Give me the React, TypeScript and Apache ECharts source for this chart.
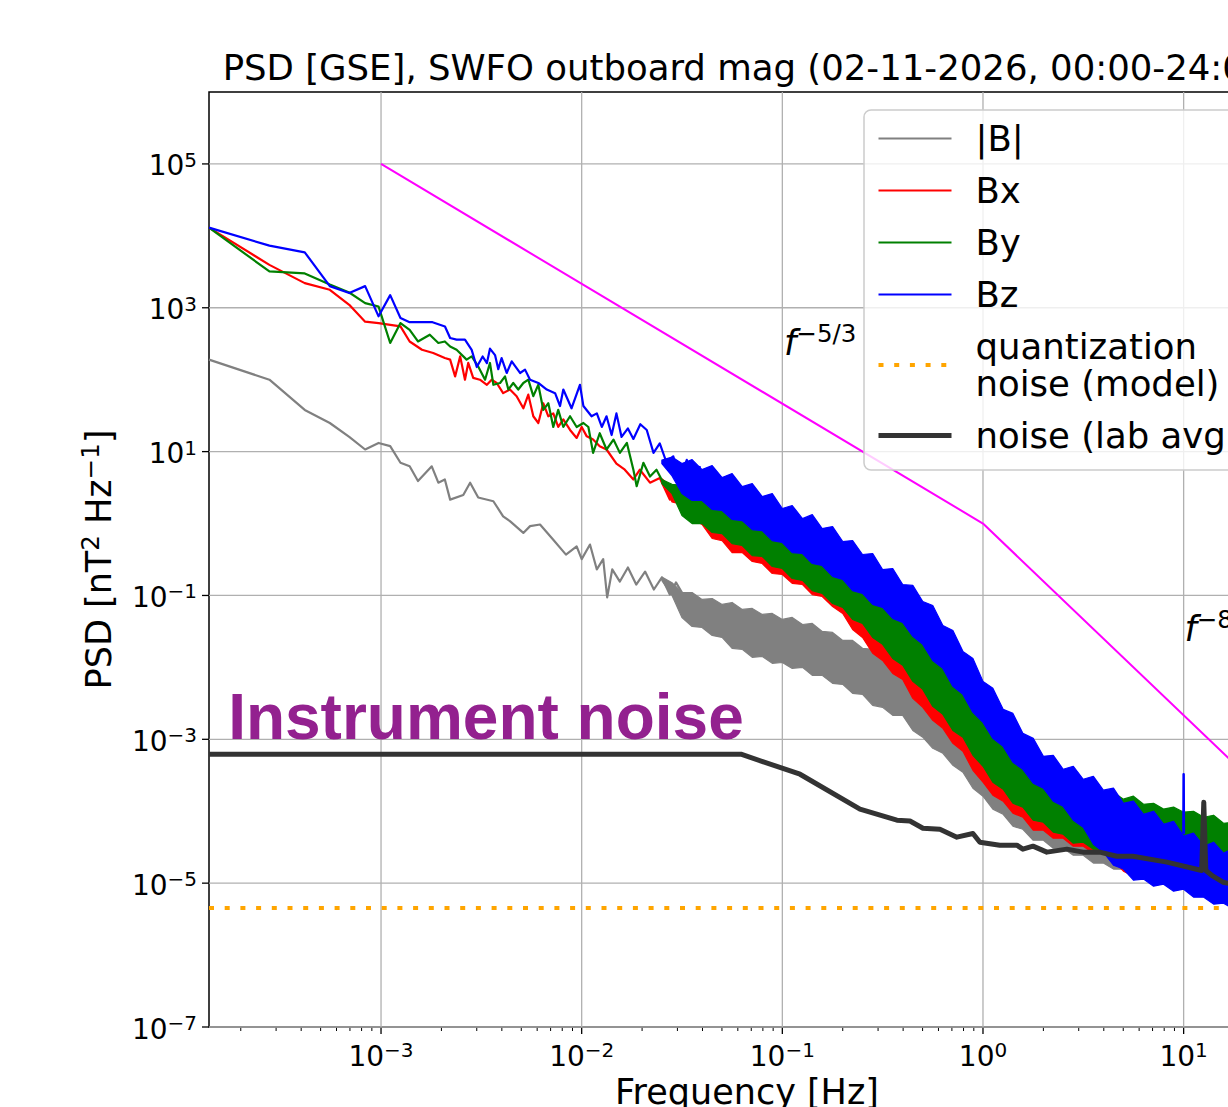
import React, { useEffect, useRef } from 'react';
import * as echarts from 'echarts';

const FONT = 'DejaVu Sans';

// Axis extents: 2-hour Welch segments give a lowest bin of 1/7200 Hz; Nyquist is 32 Hz.
const F_MIN = 1 / 7200;
const F_MAX = 32;
const PSD_MIN = 1e-7;
const PSD_MAX = 1e6;

const xMajorTicks = [1e-3, 1e-2, 1e-1, 1, 10];
const xMajorExponents = ['−3', '−2', '−1', '0', '1'];
const xMinorTicks = [
  2e-4, 3e-4, 4e-4, 5e-4, 6e-4, 7e-4, 8e-4, 9e-4,
  2e-3, 3e-3, 4e-3, 5e-3, 6e-3, 7e-3, 8e-3, 9e-3,
  0.02, 0.03, 0.04, 0.05, 0.06, 0.07, 0.08, 0.09,
  0.2, 0.3, 0.4, 0.5, 0.6, 0.7, 0.8, 0.9,
  2, 3, 4, 5, 6, 7, 8, 9, 20, 30,
];
const yMajorTicks = [1e-7, 1e-5, 1e-3, 1e-1, 1e1, 1e3, 1e5];
const yMajorExponents = ['−7', '−5', '−3', '−1', '1', '3', '5'];

// Low-frequency part of each spectrum: [frequency Hz, PSD nT^2/Hz]
const bMagLine = [
  [1.389e-4, 190], [2.778e-4, 100], [4.167e-4, 38], [5.556e-4, 25], [6.944e-4, 16],
  [8.333e-4, 10.7], [9.722e-4, 13.2], [1.111e-3, 11.9], [1.25e-3, 7.0], [1.389e-3, 6.25],
  [1.528e-3, 3.9], [1.79e-3, 6.25], [1.93e-3, 3.7], [2.08e-3, 4.1], [2.21e-3, 2.15],
  [2.57e-3, 2.5], [2.78e-3, 3.7], [3.05e-3, 2.3], [3.63e-3, 2.04], [4.06e-3, 1.26],
  [4.39e-3, 1.08], [5.12e-3, 0.74], [5.53e-3, 0.92], [6.2e-3, 0.97], [7.2e-3, 0.6],
  [8.35e-3, 0.37], [9.44e-3, 0.48], [0.01, 0.32], [0.011, 0.51], [0.0119, 0.23],
  [0.0128, 0.32], [0.0134, 0.094], [0.0142, 0.23], [0.0155, 0.156], [0.017, 0.245],
  [0.0187, 0.142], [0.0207, 0.215], [0.0229, 0.121], [0.0251, 0.178], [0.0275, 0.103],
  [0.0295, 0.152], [0.0316, 0.11],
];

const bxLine = [
  [1.389e-4, 1.3e4], [2.778e-4, 3.95e3], [4.167e-4, 2.2e3], [5.556e-4, 1.78e3], [6.944e-4, 1.1e3],
  [8.333e-4, 640], [9.722e-4, 613], [1.25e-3, 550], [1.389e-3, 340], [1.6e-3, 261],
  [1.82e-3, 235], [2.08e-3, 200], [2.21e-3, 190], [2.34e-3, 111], [2.48e-3, 211],
  [2.62e-3, 100], [2.72e-3, 171], [2.88e-3, 106], [3.11e-3, 100], [3.37e-3, 85],
  [3.56e-3, 100], [3.77e-3, 90], [4.06e-3, 65], [4.39e-3, 73], [4.74e-3, 59],
  [5.12e-3, 40], [5.42e-3, 62], [5.74e-3, 31], [6.08e-3, 25], [6.44e-3, 47],
  [6.82e-3, 31], [7.22e-3, 34], [7.64e-3, 22], [8.1e-3, 28], [8.75e-3, 20],
  [9.44e-3, 15.5], [0.01, 22], [0.0106, 16.3], [0.0114, 14.7], [0.0123, 11.9],
  [0.0133, 10.7], [0.0149, 6.8], [0.0164, 5.6], [0.0181, 4.1], [0.0195, 5.6],
  [0.0219, 3.7], [0.0245, 4.3], [0.0275, 2.15], [0.0297, 3.0], [0.0321, 1.94],
  [0.0353, 2.7], [0.0389, 1.94],
];

const byLine = [
  [1.389e-4, 1.3e4], [2.778e-4, 3.2e3], [4.167e-4, 3.0e3], [5.556e-4, 2.1e3], [6.944e-4, 1.63e3],
  [8.333e-4, 1.16e3], [9.722e-4, 1.04e3], [1.111e-3, 324], [1.25e-3, 613], [1.389e-3, 494],
  [1.528e-3, 340], [1.75e-3, 422], [1.93e-3, 324], [2.08e-3, 340], [2.21e-3, 290],
  [2.38e-3, 261], [2.67e-3, 190], [2.83e-3, 211], [3.05e-3, 153], [3.3e-3, 100],
  [3.49e-3, 171], [3.63e-3, 85], [3.92e-3, 90], [4.15e-3, 111], [4.31e-3, 73],
  [4.56e-3, 90], [4.83e-3, 73], [5.12e-3, 90], [5.42e-3, 100], [5.74e-3, 59],
  [6.08e-3, 85], [6.44e-3, 38], [6.82e-3, 47], [7.22e-3, 22], [7.64e-3, 38],
  [8.1e-3, 22], [8.75e-3, 31], [9.44e-3, 22], [0.0102, 25], [0.0108, 22],
  [0.0114, 9.6], [0.0123, 18], [0.0133, 10.7], [0.0144, 14.7], [0.0155, 9.6],
  [0.0168, 13.2], [0.0181, 5.6], [0.0188, 3.3], [0.0203, 7.0], [0.0219, 4.5],
  [0.0236, 5.6], [0.0255, 3.7], [0.0275, 3.3], [0.0297, 2.7], [0.0321, 3.0],
  [0.034, 1.94], [0.036, 2.7], [0.0389, 2.15],
];

const bzLine = [
  [1.389e-4, 1.3e4], [2.778e-4, 7.3e3], [4.167e-4, 5.9e3], [5.556e-4, 2.0e3], [6.944e-4, 1.6e3],
  [8.333e-4, 2.0e3], [9.722e-4, 760], [1.111e-3, 1.5e3], [1.25e-3, 720], [1.389e-3, 630],
  [1.528e-3, 630], [1.667e-3, 630], [1.806e-3, 630], [2.083e-3, 550], [2.21e-3, 380],
  [2.38e-3, 360], [2.62e-3, 360], [2.83e-3, 260], [3.0e-3, 150], [3.21e-3, 210],
  [3.37e-3, 170], [3.49e-3, 270], [3.7e-3, 220], [3.84e-3, 140], [3.99e-3, 200],
  [4.23e-3, 124], [4.48e-3, 180], [4.93e-3, 124], [5.22e-3, 138], [5.53e-3, 100],
  [6.08e-3, 90], [6.7e-3, 73], [7.37e-3, 65], [7.8e-3, 43], [8.1e-3, 73],
  [8.9e-3, 40], [9.8e-3, 85], [0.0102, 43], [0.0112, 31], [0.0119, 34],
  [0.0126, 22], [0.0133, 31], [0.0141, 17], [0.0149, 34], [0.0158, 16],
  [0.017, 21], [0.0181, 15], [0.0196, 24], [0.0211, 20], [0.0228, 9.6], [0.0245, 13],
  [0.0265, 7.0], [0.0286, 8.6], [0.0309, 4.1], [0.0334, 7.7], [0.036, 3.7], [0.0389, 6.3],
];

// Narrow line at 10 Hz in Bz
const bzSpike = [[9.97, 4.8e-5], [10.0, 3.26e-4], [10.03, 4.8e-5]];

// Above ~0.025 Hz the bins are too dense to resolve: upper / lower envelopes of each spectrum
const bandFreq = [
  0.0251, 0.0282,
  0.0316, 0.0355, 0.0398, 0.0447, 0.0501, 0.0562, 0.0631, 0.0708, 0.0794, 0.0891,
  0.1, 0.112, 0.126, 0.141, 0.158, 0.178, 0.2, 0.224, 0.251, 0.282,
  0.316, 0.355, 0.398, 0.447, 0.501, 0.562, 0.631, 0.708, 0.794, 0.891,
  1.0, 1.12, 1.26, 1.41, 1.58, 1.78, 2.0, 2.24, 2.51, 2.82,
  3.16, 3.55, 3.98, 4.47, 5.01, 5.62, 6.31, 7.08, 7.94, 8.91,
  10.0, 11.2, 12.6, 14.1, 15.8, 17.8, 20.0, 22.4, 25.1, 28.2, 31.6,
];

const bMagBandHi = [
  0.18, 0.15,
  0.110, 0.110, 0.088, 0.0908, 0.075, 0.0799, 0.0639, 0.066, 0.0545, 0.0562,
  0.0464, 0.0495, 0.0395, 0.0408, 0.0316, 0.0306, 0.0237, 0.0237, 0.0184, 0.0178,
  0.0133, 0.0133, 0.0103, 0.00908, 0.00619, 0.00511, 0.00297, 0.00222, 0.00125, 9.69e-4,
  5.8e-4, 4.64e-4, 2.78e-4, 2.29e-4, 1.57e-4, 1.33e-4, 9.69e-5, 9.38e-5, 6.39e-5, 5.99e-5,
  4.35e-5, 4.35e-5, 3.37e-5, 3.37e-5, 2.78e-5,
];
const bMagBandLo = [
  0.16, 0.1,
  0.0495, 0.0371, 0.0359, 0.0278, 0.0261, 0.0184, 0.0178, 0.0138, 0.0142, 0.0114,
  0.0117, 0.00969, 0.01, 0.00774, 0.00774, 0.00599, 0.0058, 0.00435, 0.00422, 0.00297,
  0.00278, 0.00215, 0.00215, 0.00133, 0.00107, 7.5e-4, 6.39e-4, 4.35e-4, 3.48e-4, 2.09e-4,
  1.62e-4, 1.07e-4, 9.08e-5, 6.19e-5, 5.62e-5, 3.95e-5, 3.95e-5, 3.06e-5, 3.06e-5, 2.45e-5,
  2.45e-5, 1.9e-5, 1.9e-5, 1.57e-5, 1.57e-5,
];

const bxBandHi = [
  4.2, 3.2,
  2.72, 3.1, 2.25, 2.56, 1.74, 1.98, 1.3, 1.44, 0.95, 1.04,
  0.65, 0.71, 0.47, 0.53, 0.34, 0.36, 0.225, 0.232, 0.149, 0.154,
  0.092, 0.095, 0.057, 0.055, 0.033, 0.029, 0.015, 0.013, 0.0067, 0.0054,
  0.0026, 0.0021, 0.00104, 9.2e-4, 4.8e-4, 4.2e-4, 2.3e-4, 2.4e-4, 1.5e-4, 1.7e-4,
  1.1e-4, 1.83e-4, 1.42e-4, 1.47e-4, 1.18e-4, 1.3e-4, 1.0e-4, 1.03e-4, 8.6e-5, 9.1e-5,
  7.8e-5, 8.0e-5, 6.6e-5, 7.0e-5, 5.4e-5, 5.6e-5, 4.5e-5, 4.6e-5, 3.7e-5, 3.8e-5, 3.1e-5,
];
const bxBandLo = [
  3.7, 2.0,
  1.84, 1.17, 0.969, 0.619, 0.58, 0.395, 0.395, 0.297, 0.278, 0.202,
  0.196, 0.147, 0.142, 0.103, 0.0969, 0.0703, 0.0562, 0.0337, 0.0261, 0.0157,
  0.0125, 0.00825, 0.00681, 0.00371, 0.00278, 0.00184, 0.00142, 8.8e-4, 6.81e-4, 3.71e-4,
  2.53e-4, 1.67e-4, 1.38e-4, 9.38e-5, 8.25e-5, 5.45e-5, 5.45e-5, 4.22e-5, 4.22e-5, 3.26e-5,
  3.26e-5, 2.61e-5, 2.7e-5, 2.02e-5, 1.47e-5, 1.25e-5, 1.21e-5, 1.14e-5, 1.07e-5, 1.0e-5,
  9.38e-6, 8.25e-6, 7.26e-6, 6.39e-6, 5.99e-6, 5.11e-6, 4.95e-6, 4.64e-6, 4.35e-6, 4.08e-6, 3.95e-6,
];

const byBandHi = [
  4.1, 3.5,
  3.4, 3.87, 2.81, 3.2, 2.18, 2.48, 1.63, 1.8, 1.19, 1.3,
  0.81, 0.89, 0.585, 0.665, 0.426, 0.454, 0.281, 0.29, 0.186, 0.192,
  0.115, 0.119, 0.071, 0.069, 0.041, 0.036, 0.019, 0.0163, 0.0084, 0.0067,
  0.0032, 0.0026, 0.0013, 0.00115, 6.0e-4, 5.2e-4, 2.9e-4, 3.0e-4, 1.9e-4, 2.1e-4,
  1.4e-4, 2.29e-4, 1.78e-4, 1.84e-4, 1.47e-4, 1.62e-4, 1.25e-4, 1.29e-4, 1.07e-4, 1.14e-4,
  9.69e-5, 1.0e-4, 8.25e-5, 8.8e-5, 6.81e-5, 7.03e-5, 5.62e-5, 5.8e-5, 4.64e-5, 4.79e-5, 3.83e-5,
];
const byBandLo = [
  3.6, 2.6,
  1.29, 1.0, 1.0, 0.75, 0.726, 0.527, 0.495, 0.359, 0.348, 0.253,
  0.237, 0.172, 0.162, 0.117, 0.107, 0.0774, 0.0681, 0.0464, 0.0408, 0.0261,
  0.0209, 0.0133, 0.0107, 0.00639, 0.00495, 0.00287, 0.00222, 0.00133, 0.00107, 5.99e-4,
  4.22e-4, 2.53e-4, 2.02e-4, 1.29e-4, 1.14e-4, 7.5e-5, 7.03e-5, 5.11e-5, 4.79e-5, 3.59e-5,
  3.71e-5, 2.97e-5, 2.97e-5, 2.53e-5, 2.15e-5, 1.84e-5, 1.67e-5, 1.52e-5, 1.38e-5, 1.25e-5,
  1.14e-5, 1.03e-5, 9.38e-6, 8.8e-6, 8.25e-6, 7.74e-6, 7.26e-6, 6.81e-6, 6.39e-6, 5.99e-6, 5.62e-6,
];

const bzBandHi = [
  7.6, 8.4,
  6.81, 7.74, 5.62, 6.39, 4.35, 4.95, 3.26, 3.59, 2.37, 2.61,
  1.62, 1.78, 1.17, 1.33, 0.852, 0.908, 0.562, 0.58, 0.371, 0.383,
  0.229, 0.237, 0.142, 0.138, 0.0825, 0.0726, 0.0383, 0.0326, 0.0167, 0.0133,
  0.00639, 0.00511, 0.00261, 0.00229, 0.00121, 0.00103, 5.8e-4, 5.99e-4, 3.83e-4, 4.22e-4,
  2.78e-4, 3.06e-4, 1.96e-4, 2.09e-4, 1.29e-4, 1.38e-4, 9.08e-5, 1.0e-4, 6.6e-5, 7.26e-5,
  4.5e-5, 4.95e-5, 3.26e-5, 3.71e-5, 2.61e-5, 3.06e-5, 2.15e-5, 2.53e-5, 1.78e-5, 2.15e-5, 1.57e-5,
];
const bzBandLo = [
  6.8, 4.6,
  2.61, 2.09, 2.09, 1.57, 1.52, 1.14, 1.1, 0.825, 0.799, 0.58,
  0.545, 0.395, 0.383, 0.278, 0.261, 0.184, 0.167, 0.117, 0.107, 0.075,
  0.0681, 0.0479, 0.0422, 0.027, 0.0209, 0.0125, 0.00969, 0.00545, 0.00422, 0.00237,
  0.00172, 0.00103, 7.99e-4, 4.79e-4, 3.83e-4, 2.45e-4, 2.09e-4, 1.38e-4, 1.17e-4, 7.5e-5,
  5.99e-5, 3.48e-5, 2.7e-5, 1.78e-5, 1.57e-5, 1.1e-5, 1.14e-5, 9.08e-6, 9.69e-6, 7.74e-6,
  8.25e-6, 6.39e-6, 6.39e-6, 5.11e-6, 5.27e-6, 4.35e-6, 4.64e-6, 3.83e-6, 4.08e-6, 3.37e-6, 3.71e-6,
];

// Lab-averaged sensor noise floor
const labNoise = [
  [1.389e-4, 6.2e-4], [0.0622, 6.2e-4], [0.1225, 3.27e-4], [0.2437, 1.07e-4], [0.3725, 7.5e-5],
  [0.4325, 7.3e-5], [0.502, 5.8e-5], [0.61, 5.6e-5], [0.741, 4.36e-5], [0.891, 4.9e-5],
  [0.965, 3.7e-5], [1.213, 3.37e-5], [1.475, 3.37e-5], [1.58, 2.97e-5], [1.775, 3.27e-5],
  [2.08, 2.7e-5], [2.62, 2.97e-5], [3.15, 2.7e-5], [3.82, 2.7e-5], [4.64, 2.37e-5],
  [5.58, 2.37e-5], [8.25, 1.96e-5], [11.6, 1.56e-5], [12.3, 1.5e-5], [12.6, 1.33e-4],
  [12.9, 1.5e-5], [14.0, 1.25e-5], [15.7, 1.03e-5], [32, 7e-6],
];

// Quantization noise model (flat)
const quantNoise = [[F_MIN, 4.5e-6], [F_MAX, 4.5e-6]];

// Reference slopes: f^-5/3 from 1 mHz to 1 Hz, then f^-8/3
const slopeRef = [[1e-3, 1e5], [1, 1], [32, 9.7e-5]];

// Text annotations anchored in data space (left / bottom of the text box)
const noteAnchors = [[0.102, 161], [10.1, 0.0169], [1.73e-4, 7.3e-4]];

const tickRich = {
  b: { fontSize: 28, fontFamily: FONT, lineHeight: 32, fill: '#000' },
  s: { fontSize: 20, fontFamily: FONT, lineHeight: 20, verticalAlign: 'top', fill: '#000' },
};
const slopeRich = {
  i: { fontSize: 35, fontFamily: FONT, fontStyle: 'italic', lineHeight: 44, fill: '#000' },
  s: { fontSize: 24.5, fontFamily: FONT, lineHeight: 24, verticalAlign: 'top', fill: '#000' },
};

function bandRenderer(hi: number[], lo: number[], color: string) {
  return (_params: any, api: any) => {
    const n = Math.min(hi.length, lo.length);
    const points: number[][] = [];
    for (let i = 0; i < n; i++) points.push(api.coord([bandFreq[i], hi[i]]));
    for (let i = n - 1; i >= 0; i--) points.push(api.coord([bandFreq[i], lo[i]]));
    return {
      type: 'polygon',
      shape: { points },
      style: { fill: color, stroke: color, lineWidth: 1.2, lineJoin: 'round' },
    };
  };
}

function lineSeries(name: string, data: number[][], color: string, width: number, z: number, extra: any = {}) {
  return {
    type: 'line',
    name,
    data,
    z,
    showSymbol: false,
    symbol: 'none',
    silent: true,
    color,
    lineStyle: { color, width, join: 'round', cap: 'butt', ...(extra.lineStyle || {}) },
  };
}

function bandSeries(name: string, hi: number[], lo: number[], color: string, z: number) {
  return {
    type: 'custom',
    name,
    coordinateSystem: 'cartesian2d',
    silent: true,
    z,
    data: [[bandFreq[0], hi[0]]],
    renderItem: bandRenderer(hi, lo, color),
  };
}

export default function App() {
  const ref = useRef<HTMLDivElement>(null);

  useEffect(() => {
    if (!ref.current) return;
    const chart = echarts.init(ref.current, null, { renderer: 'svg' });

    const option: any = {
      animation: false,
      backgroundColor: '#ffffff',
      title: {
        text: 'PSD [GSE], SWFO outboard mag (02-11-2026, 00:00-24:00)',
        left: 747,
        top: 44,
        textAlign: 'center',
        textStyle: { fontFamily: FONT, fontSize: 35.5, fontWeight: 'normal', color: '#000' },
      },
      grid: {
        left: 209,
        top: 92,
        width: 1076,
        height: 935,
        show: true,
        borderColor: '#000',
        borderWidth: 1.5,
        backgroundColor: 'transparent',
        containLabel: false,
        outerBoundsMode: 'none',
      },
      legend: {
        orient: 'vertical',
        left: 864,
        top: 110,
        z: 20,
        selectedMode: false,
        data: ['|B|', 'Bx', 'By', 'Bz', 'quantization\nnoise (model)', 'noise (lab avg)'],
        itemWidth: 73,
        itemHeight: 14,
        itemGap: 15,
        padding: [10, 14, 16, 12],
        backgroundColor: 'rgba(255,255,255,0.8)',
        borderColor: '#cccccc',
        borderWidth: 1.5,
        borderRadius: 7,
        itemStyle: { opacity: 0 },
        lineStyle: { width: 'inherit' },
        textStyle: {
          fontFamily: FONT,
          fontSize: 35.5,
          lineHeight: 37,
          color: '#000',
          padding: [0, 0, 0, 19],
        },
      },
      xAxis: {
        type: 'log',
        logBase: 10,
        min: F_MIN,
        max: F_MAX,
        axisLine: { show: false },
        axisTick: { show: false },
        axisLabel: { show: false },
        splitLine: { show: false },
        minorTick: { show: false },
        minorSplitLine: { show: false },
        name: 'Frequency [Hz]',
        nameLocation: 'middle',
        nameGap: 47,
        nameTextStyle: { fontFamily: FONT, fontSize: 35, color: '#000' },
      },
      yAxis: {
        type: 'log',
        logBase: 10,
        min: PSD_MIN,
        max: PSD_MAX,
        axisLine: { show: false },
        axisTick: { show: false },
        axisLabel: { show: false },
        splitLine: { show: false },
        minorTick: { show: false },
        minorSplitLine: { show: false },
        name: '{a|PSD [nT}{s|2}{a| Hz}{s|−1}{a|]}',
        nameLocation: 'middle',
        nameRotate: 90,
        nameGap: 89,
        nameTextStyle: {
          fontFamily: FONT,
          fontSize: 35,
          color: '#000',
          rich: {
            a: { fontFamily: FONT, fontSize: 35, color: '#000', lineHeight: 42 },
            s: { fontFamily: FONT, fontSize: 24.5, color: '#000', lineHeight: 24, verticalAlign: 'top' },
          },
        },
      },
      series: [
        // x gridlines, major ticks and labels
        {
          type: 'custom',
          coordinateSystem: 'cartesian2d',
          silent: true,
          z: 1,
          data: xMajorTicks.map((f, i) => [f, PSD_MIN, i]),
          renderItem: (params: any, api: any) => {
            const f = api.value(0);
            const idx = api.value(2);
            const [x, yb] = api.coord([f, PSD_MIN]);
            const [, yt] = api.coord([f, PSD_MAX]);
            return {
              type: 'group',
              children: [
                { type: 'line', shape: { x1: x, y1: yt, x2: x, y2: yb }, style: { stroke: '#b0b0b0', lineWidth: 1.3 } },
                { type: 'line', shape: { x1: x, y1: yb, x2: x, y2: yb + 7 }, style: { stroke: '#000', lineWidth: 1.3 } },
                {
                  type: 'text',
                  x,
                  y: yb + 13,
                  style: {
                    text: `{b|10}{s|${xMajorExponents[idx]}}`,
                    rich: tickRich,
                    align: 'center',
                    verticalAlign: 'top',
                  },
                },
              ],
            };
          },
        },
        // x minor ticks
        {
          type: 'custom',
          coordinateSystem: 'cartesian2d',
          silent: true,
          z: 1,
          data: xMinorTicks.map((f) => [f, PSD_MIN]),
          renderItem: (params: any, api: any) => {
            const [x, yb] = api.coord([api.value(0), PSD_MIN]);
            return { type: 'line', shape: { x1: x, y1: yb, x2: x, y2: yb + 4 }, style: { stroke: '#000', lineWidth: 1 } };
          },
        },
        // y gridlines, ticks and labels
        {
          type: 'custom',
          coordinateSystem: 'cartesian2d',
          silent: true,
          z: 1,
          data: yMajorTicks.map((v, i) => [F_MIN, v, i]),
          renderItem: (params: any, api: any) => {
            const v = api.value(1);
            const idx = api.value(2);
            const [xl, y] = api.coord([F_MIN, v]);
            const [xr] = api.coord([F_MAX, v]);
            return {
              type: 'group',
              children: [
                { type: 'line', shape: { x1: xl, y1: y, x2: xr, y2: y }, style: { stroke: '#b0b0b0', lineWidth: 1.3 } },
                { type: 'line', shape: { x1: xl - 7, y1: y, x2: xl, y2: y }, style: { stroke: '#000', lineWidth: 1.3 } },
                {
                  type: 'text',
                  x: xl - 12,
                  y: y + 2,
                  style: {
                    text: `{b|10}{s|${yMajorExponents[idx]}}`,
                    rich: tickRich,
                    align: 'right',
                    verticalAlign: 'middle',
                  },
                },
              ],
            };
          },
        },

        lineSeries('|B|', bMagLine, '#808080', 2.2, 2),
        bandSeries('|B| band', bMagBandHi, bMagBandLo, '#808080', 2),
        lineSeries('Bx', bxLine, '#ff0000', 2.2, 3),
        bandSeries('Bx band', bxBandHi, bxBandLo, '#ff0000', 3),
        lineSeries('By', byLine, '#008000', 2.2, 4),
        bandSeries('By band', byBandHi, byBandLo, '#008000', 4),
        lineSeries('Bz', bzLine, '#0000ff', 2.2, 5),
        bandSeries('Bz band', bzBandHi, bzBandLo, '#0000ff', 5),
        lineSeries('Bz line', bzSpike, '#0000ff', 2.5, 5),

        lineSeries('quantization\nnoise (model)', quantNoise, '#ffa500', 4, 7, {
          lineStyle: { type: [5, 10.7], cap: 'butt' },
        }),
        lineSeries('noise (lab avg)', labNoise, '#333333', 5, 6),
        lineSeries('slope reference', slopeRef, '#ff00ff', 2, 7),

        // annotations
        {
          type: 'custom',
          coordinateSystem: 'cartesian2d',
          silent: true,
          z: 8,
          data: noteAnchors.map((p, i) => [p[0], p[1], i]),
          renderItem: (params: any, api: any) => {
            const idx = api.value(2);
            const [x, y] = api.coord([api.value(0), api.value(1)]);
            if (idx === 2) {
              return {
                type: 'text',
                x,
                y,
                style: {
                  text: 'Instrument noise',
                  fill: '#93218f',
                  fontFamily: 'Liberation Sans',
                  fontWeight: 'bold',
                  fontSize: 64,
                  lineHeight: 64,
                  align: 'left',
                  verticalAlign: 'bottom',
                },
              };
            }
            const exp = idx === 0 ? '−5/3' : '−8/3';
            return {
              type: 'text',
              x,
              y,
              style: {
                text: `{i|f}{s|${exp}}`,
                rich: slopeRich,
                align: 'left',
                verticalAlign: 'bottom',
              },
            };
          },
        },
      ],
    };

    chart.setOption(option);
    return () => chart.dispose();
  }, []);

  return (
    <div
      style={{
        position: 'fixed',
        left: 0,
        top: 0,
        width: 1228,
        height: 1107,
        overflow: 'hidden',
        background: '#ffffff',
      }}
    >
      <div ref={ref} style={{ width: 1400, height: 1107 }} />
    </div>
  );
}
